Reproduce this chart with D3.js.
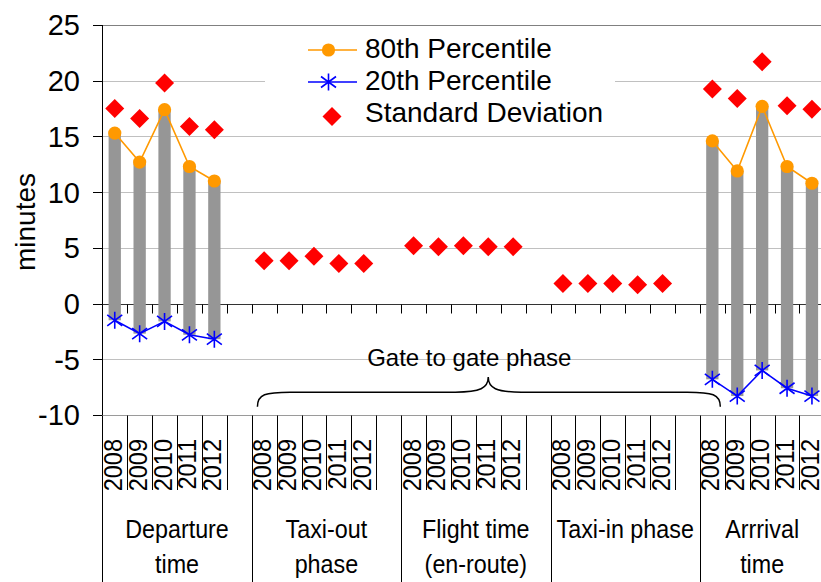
<!DOCTYPE html>
<html><head><meta charset="utf-8">
<script src="https://cdn.jsdelivr.net/npm/d3@7"></script>
<style>body{margin:0;background:#fff}svg{display:block}text{font-family:"Liberation Sans",Arial,sans-serif;fill:#000}</style>
</head><body><svg id="c" width="821" height="582"></svg>
<script>
// ---- data ----
const groupLabels = [["Departure","time"],["Taxi-out","phase"],["Flight time","(en-route)"],["Taxi-in phase"],["Arrrival","time"]];
const years = ["2008","2009","2010","2011","2012"];
const yTicks = [-10,-5,0,5,10,15,20,25];
const p80Departure = [15.3, 12.7, 17.4, 12.3, 11.0];
const p20Departure = [-1.5, -2.7, -1.6, -2.8, -3.2];
const sdDeparture = [17.5, 16.6, 19.8, 15.9, 15.6];
const sdTaxiOut = [3.85, 3.85, 4.25, 3.6, 3.6];
const sdFlight = [5.2, 5.1, 5.2, 5.1, 5.1];
const sdTaxiIn = [1.8, 1.8, 1.8, 1.7, 1.8];
const p80Arrival = [14.6, 11.9, 17.7, 12.3, 10.8];
const p20Arrival = [-6.8, -8.3, -6.0, -7.6, -8.3];
const sdArrival = [19.25, 18.4, 21.7, 17.75, 17.45];
const legendLabels = ["80th Percentile","20th Percentile","Standard Deviation"];
const annotation = "Gate to gate phase";
const yLabel = "minutes";

// ---- layout ----
const svg = d3.select("#c");
const left = 102.3, slotW = 24.9;
const slots = [];
groupLabels.forEach((g,gi)=>{
  years.forEach(y=>slots.push(gi+"|"+y));
  if (gi < groupLabels.length-1) slots.push(gi+"|gap");
});
const x = d3.scaleBand().domain(slots).range([left, left+slots.length*slotW]).padding(0);
const y = d3.scaleLinear().domain([-10,25]).range([415,25]);
const W = 821;
const px = v => Math.round(v)+0.5;
const cx = (g,i) => x(g+"|"+years[i]) + x.bandwidth()/2;

// gridlines
const gridG = svg.append("g");
yTicks.forEach(t=>{
  let col = "#c0c0c0";
  if (t===25) col = "#808080";
  if (t===-10) col = "#9a9a9a";
  if (t===0) return;
  gridG.append("line").attr("x1",left).attr("x2",W).attr("y1",px(y(t))).attr("y2",px(y(t)))
    .attr("stroke",col).attr("stroke-width",1);
});
// y axis ticks and labels
yTicks.forEach(t=>{
  gridG.append("line").attr("x1",93).attr("x2",left).attr("y1",px(y(t))).attr("y2",px(y(t)))
    .attr("stroke","#000").attr("stroke-width",1);
  svg.append("text").attr("x",80).attr("y",y(t)).attr("dy","0.36em").attr("text-anchor","end")
    .attr("font-size",29).text(t);
});
svg.append("text").attr("transform",`translate(35,${(y(25)+y(-10))/2+2}) rotate(-90)`)
  .attr("text-anchor","middle").attr("font-size",28).text(yLabel);

// legend background
svg.append("rect").attr("x",265).attr("y",30).attr("width",350).attr("height",100).attr("fill","#fff");

// zero axis line with ticks
svg.append("line").attr("x1",left).attr("x2",W).attr("y1",px(y(0))).attr("y2",px(y(0))).attr("stroke","#333");
for (let b=0; b<=slots.length; b++){
  const xb = px(left + b*x.step());
  svg.append("line").attr("x1",xb).attr("x2",xb).attr("y1",px(y(0))).attr("y2",px(y(0))+9).attr("stroke","#000");
}
// category separators
for (let b=0; b<=slots.length; b++){
  const xb = px(left + b*x.step());
  svg.append("line").attr("x1",xb).attr("x2",xb).attr("y1",px(y(-10))).attr("y2", b%6===0?582:490)
    .attr("stroke","#000").attr("stroke-width",1);
}
// y axis line
svg.append("line").attr("x1",px(left)).attr("x2",px(left)).attr("y1",y(25)).attr("y2",y(-10)).attr("stroke","#000");

// year labels and group labels
groupLabels.forEach((g,gi)=>{
  years.forEach((yr,i)=>{
    svg.append("text").attr("transform",`translate(${cx(gi,i)+7},439) rotate(-90) scale(0.94,1)`)
      .attr("text-anchor","end").attr("font-size",25).text(yr);
  });
  const first = x(gi+"|"+years[0]);
  const n = gi < groupLabels.length-1 ? 6 : 5;
  const c = first + n*x.step()/2;
  groupLabels[gi].forEach((ln,li)=>{
    svg.append("text").attr("transform",`translate(${c},${538+li*35}) scale(0.88,1)`)
      .attr("text-anchor","middle").attr("font-size",26.5).text(ln);
  });
});

// annotation brace
(function(){
  const xa = x("1|2008") + 0.23*x.step();
  const xb = x("4|2008") + 0.82*x.step();
  const xm = cx(2,3);
  const yE = y(-9.25), yM = y(-7.95), yT = y(-6.6);
  const r = 33;
  const p = d3.path();
  p.moveTo(xa,yE);
  p.bezierCurveTo(xa, yM+2, xa+8, yM, xa+r, yM);
  p.lineTo(xm-r, yM);
  p.bezierCurveTo(xm-8, yM, xm, yM-4, xm, yT);
  p.bezierCurveTo(xm, yM-4, xm+8, yM, xm+r, yM);
  p.lineTo(xb-r, yM);
  p.bezierCurveTo(xb-8, yM, xb, yM+2, xb, yE);
  svg.append("path").attr("d",p.toString()).attr("fill","none").attr("stroke","#000").attr("stroke-width",1.5);
  svg.append("text").attr("x",xm-19).attr("y",y(-5.6)).attr("text-anchor","middle").attr("font-size",24).text(annotation);
})();

// bars
const rangeSeries = [[0,p80Departure,p20Departure],[4,p80Arrival,p20Arrival]];
const barW = 12.3;
rangeSeries.forEach(([gi,hi,lo])=>{
  svg.append("g").selectAll("rect").data(hi).join("rect")
    .attr("x",(d,i)=>cx(gi,i)-barW/2).attr("width",barW)
    .attr("y",d=>y(d)).attr("height",(d,i)=>y(lo[i])-y(d)).attr("fill","#969696");
});

// lines + markers
const starPath = "M0,-8.5L0,8.5M-7.5,-5.5L7.5,5.5M-7.5,5.5L7.5,-5.5";
const diamond = r => `M0,${-r}L${r},0L0,${r}L${-r},0Z`;
rangeSeries.forEach(([gi,hi,lo])=>{
  const line = d3.line().x((d,i)=>cx(gi,i)).y(d=>y(d));
  svg.append("path").attr("d",line(hi)).attr("fill","none").attr("stroke","#ff9900").attr("stroke-width",1.6);
  svg.append("path").attr("d",line(lo)).attr("fill","none").attr("stroke","#0000ff").attr("stroke-width",1.6);
  svg.append("g").selectAll("circle").data(hi).join("circle")
    .attr("cx",(d,i)=>cx(gi,i)).attr("cy",d=>y(d)).attr("r",6.6).attr("fill","#ff9900");
  svg.append("g").selectAll("path").data(lo).join("path")
    .attr("transform",(d,i)=>`translate(${cx(gi,i)},${y(d)})`).attr("d",starPath)
    .attr("stroke","#0000ff").attr("stroke-width",1.6).attr("fill","none");
});
const sdSeries = [sdDeparture, sdTaxiOut, sdFlight, sdTaxiIn, sdArrival];
sdSeries.forEach((s,gi)=>{
  svg.append("g").selectAll("path").data(s).join("path")
    .attr("transform",(d,i)=>`translate(${cx(gi,i)},${y(d)})`).attr("d",diamond(9.5)).attr("fill","#ff0000");
});

// legend
const lg = svg.append("g");
const rows = [50, 82, 116.5];
lg.append("line").attr("x1",308).attr("x2",357).attr("y1",rows[0]).attr("y2",rows[0]).attr("stroke","#ff9900").attr("stroke-width",1.6);
lg.append("circle").attr("cx",328.5).attr("cy",rows[0]).attr("r",6.6).attr("fill","#ff9900");
lg.append("line").attr("x1",308).attr("x2",357).attr("y1",rows[1]).attr("y2",rows[1]).attr("stroke","#0000ff").attr("stroke-width",1.6);
lg.append("path").attr("transform",`translate(328.5,${rows[1]})`).attr("d",starPath).attr("stroke","#0000ff").attr("stroke-width",1.6).attr("fill","none");
lg.append("path").attr("transform",`translate(332,${rows[2]})`).attr("d",diamond(9.5)).attr("fill","#ff0000");
const baselines = [58.3, 90.3, 122];
legendLabels.forEach((t,i)=>{
  lg.append("text").attr("x",365).attr("y",baselines[i]).attr("font-size",28).text(t);
});
</script></body></html>
